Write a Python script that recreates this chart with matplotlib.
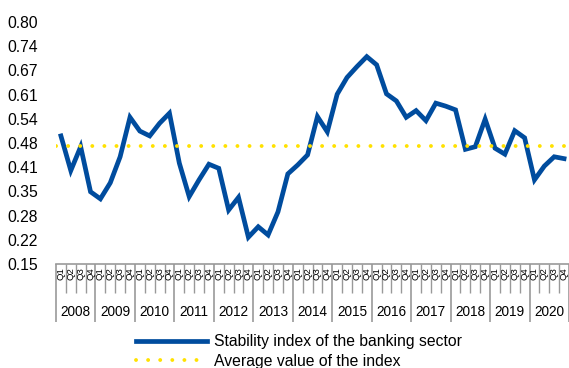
import numpy as np
import matplotlib
matplotlib.use("Agg")
import matplotlib.pyplot as plt

plt.rcParams['font.family'] = ['Liberation Sans', 'DejaVu Sans']

# Data: quarterly stability index 2008Q1 - 2020Q4
years = [str(y) for y in range(2008, 2021)]
quarters = ['Q1', 'Q2', 'Q3', 'Q4']
index_values = [
    0.494, 0.401, 0.465, 0.344,   # 2008
    0.325, 0.368, 0.438, 0.544,   # 2009
    0.507, 0.494, 0.528, 0.555,   # 2010
    0.421, 0.331, 0.376, 0.418,   # 2011
    0.407, 0.295, 0.329, 0.222,   # 2012
    0.250, 0.228, 0.290, 0.392,   # 2013
    0.416, 0.443, 0.546, 0.505,   # 2014
    0.606, 0.651, 0.680, 0.707,   # 2015
    0.685, 0.607, 0.588, 0.544,   # 2016
    0.562, 0.535, 0.582, 0.574,   # 2017
    0.564, 0.458, 0.465, 0.539,   # 2018
    0.461, 0.445, 0.508, 0.489,   # 2019
    0.376, 0.413, 0.438, 0.433,   # 2020
]
average_value = 0.467
ytick_values = [0.15, 0.215, 0.28, 0.345, 0.41, 0.475, 0.54, 0.605, 0.67, 0.735, 0.80]
ytick_labels = ['0.15', '0.22', '0.28', '0.35', '0.41', '0.48', '0.54', '0.61', '0.67', '0.74', '0.80']

n = len(index_values)
x = np.arange(n) + 0.5

fig = plt.figure(figsize=(5.69, 3.68), dpi=100)
ax = fig.add_axes([56/569, 1-264/368, 1-56/569, 242/368])

ax.plot(x, index_values, color='#004C9E', lw=3.4, solid_joinstyle='miter',
        label='Stability index of the banking sector')
ax.plot([0, n], [average_value, average_value], color='#FFE100', lw=2.8,
        linestyle=(0, (0.01, 3.1)), dash_capstyle='round',
        label='Average value of the index')

ax.set_xlim(0, n)
ax.set_ylim(0.15, 0.80)
ax.set_yticks(ytick_values)
ax.set_yticklabels(ytick_labels, fontsize=11.3)
ax.tick_params(axis='y', length=0, pad=13)

for s in ['top', 'right', 'left']:
    ax.spines[s].set_visible(False)
ax.spines['bottom'].set_color('#999999')
ax.spines['bottom'].set_linewidth(1.2)

# quarter separators (short) and year separators (long)
ax.set_xticks(np.arange(0, n + 1, 4))
ax.set_xticks(np.arange(0, n + 1), minor=True)
ax.set_xticklabels([])
ax.tick_params(axis='x', which='minor', length=21, width=1, color='#999999', direction='out')
ax.tick_params(axis='x', which='major', length=42, width=1.2, color='#999999', direction='out')

trans = ax.get_xaxis_transform()
for i in range(n):
    ax.text(x[i], -0.014, quarters[i % 4], transform=trans, rotation=90,
            ha='center', va='top', fontsize=6.8, clip_on=False)
for k, yr in enumerate(years):
    ax.text(4*k + 2, -0.2, yr, transform=trans, ha='center', va='center',
            fontsize=9.8, clip_on=False)

fig.legend(loc='upper left', bbox_to_anchor=(136/569, 1-334/368), frameon=False,
           fontsize=11.3, handlelength=4.5, handletextpad=0.45, borderpad=0,
           borderaxespad=0, labelspacing=0.3)

fig.savefig('out.png', dpi=100)
